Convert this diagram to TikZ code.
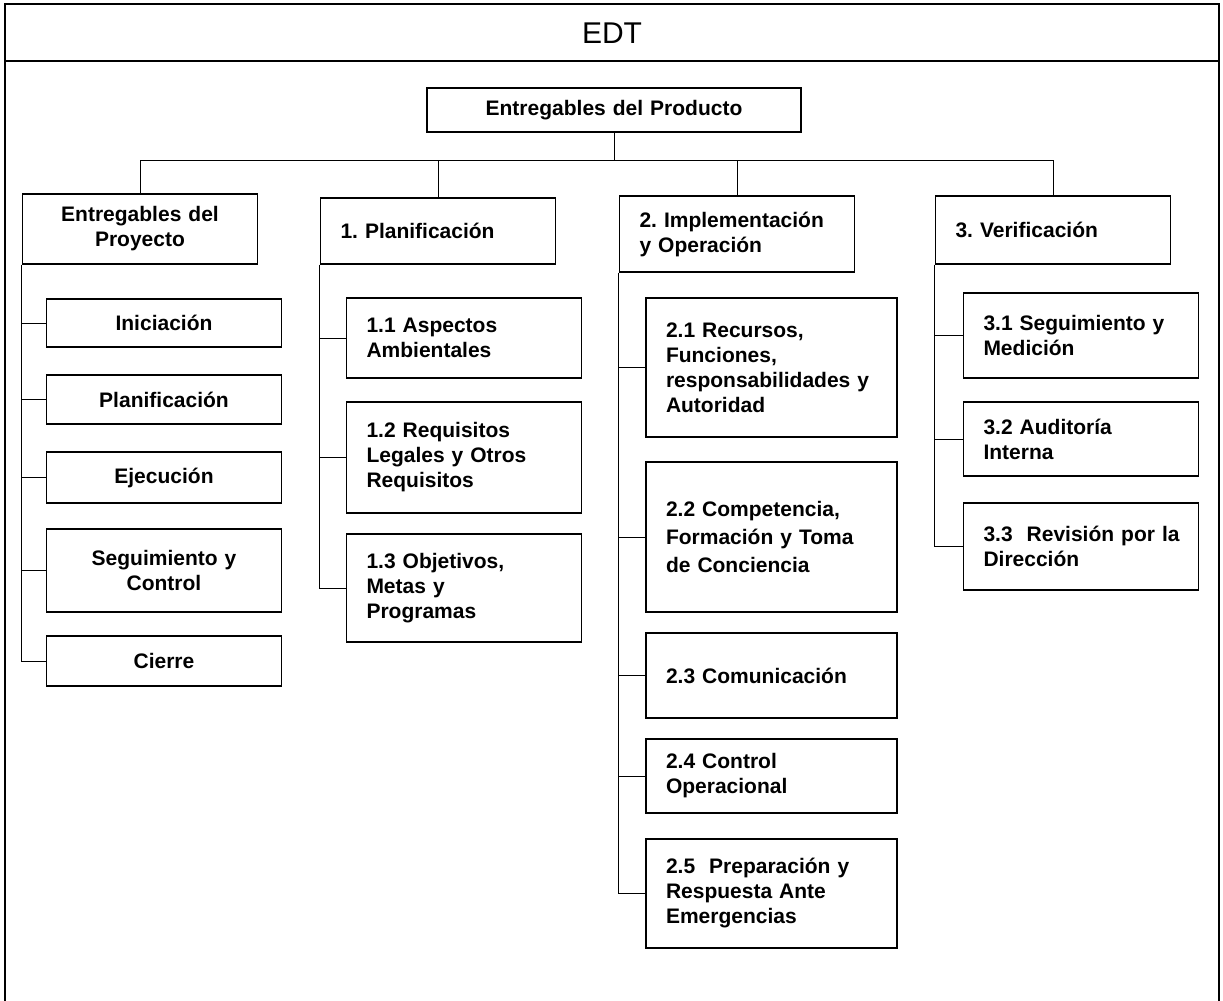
\documentclass[tikz,border=0pt]{standalone}
\usepackage{fontspec}
\setmainfont{Liberation Sans}
\frenchspacing
\newcommand\wbsfont{\fontsize{10.5}{12.5}\selectfont\bfseries\hyphenpenalty=10000}
\tikzset{
  wbs/.style={draw, line width=0.6pt, inner xsep=10pt, inner ysep=0pt,
    text width=97.5pt, align=left, font=\wbsfont},
  wbswide/.style={wbs, text width=105.5pt},
  link/.style={line width=0.5pt},
}
\begin{document}
\begin{tikzpicture}[x=0.5pt,y=-0.5pt]
\useasboundingbox (0,0) rectangle (1223,1001);
% marco
\draw[line width=1pt] (5,1010) |- (1219,4) -- (1219,1010);
\draw[line width=1pt] (5,61) -- (1219,61);
\node[font=\fontsize{15}{18}\selectfont] (title) at (612,33) {EDT};
% nivel 0 y 1
\node[wbs, align=center, text width=167pt, minimum height=22pt] (root) at (614,110) {Entregables del Producto};
\node[wbs, align=center, minimum height=35pt] (A) at (140,229) {Entregables del\\Proyecto};
\node[wbs, minimum height=33pt] (B) at (438,231) {1. Planificación};
\node[wbs, minimum height=38pt] (C) at (737,234) {2. Implementación\\y Operación};
\node[wbs, minimum height=34pt] (D) at (1053,230) {3. Verificación};
% entregables del proyecto
\node[wbs, align=center, minimum height=24pt] (a1) at (164,323) {Iniciación};
\node[wbs, align=center, minimum height=24.5pt] (a2) at (164,399.5) {Planificación};
\node[wbs, align=center, minimum height=25.5pt] (a3) at (164,477.5) {Ejecución};
\node[wbs, align=center, minimum height=41.5pt] (a4) at (164,570.5) {Seguimiento y\\Control};
\node[wbs, align=center, minimum height=25pt] (a5) at (164,661) {Cierre};
% planificacion
\node[wbs, minimum height=40pt] (b1) at (464,338) {1.1 Aspectos\\Ambientales};
\node[wbs, minimum height=55.5pt] (b2) at (464,457.5) {1.2 Requisitos\\Legales y Otros\\Requisitos};
\node[wbs, minimum height=54pt] (b3) at (464,588) {1.3 Objetivos,\\Metas y\\Programas};
% implementacion y operacion
\node[wbswide, minimum height=69.5pt] (c1) at (771.5,367.5) {2.1 Recursos,\\Funciones,\\responsabilidades~y\\Autoridad};
\node[wbswide, minimum height=75pt] (c2) at (771.5,537) {2.2 Competencia,\\[1.5pt]Formación y Toma\\[1.5pt]de Conciencia};
\node[wbswide, minimum height=42.5pt] (c3) at (771.5,675.5) {2.3 Comunicación};
\node[wbswide, minimum height=37pt] (c4) at (771.5,776) {2.4 Control\\Operacional};
\node[wbswide, minimum height=54.5pt] (c5) at (771.5,893.5) {2.5~~Preparación~y\\Respuesta Ante\\Emergencias};
% verificacion
\node[wbs, minimum height=42.5pt] (d1) at (1081,335.5) {3.1 Seguimiento~y\\Medición};
\node[wbs, minimum height=37pt] (d2) at (1081,439) {3.2 Auditoría\\Interna};
\node[wbs, minimum height=43.5pt] (d3) at (1081,546.5) {3.3~~Revisión~por~la\\Dirección};
% conectores
\draw[link] (root.south) -- ++(0,28) coordinate (bus);
\draw[link] (A.north) |- (bus) -| (D.north);
\foreach \n in {B,C} {
\draw[link] (bus -| \n.north) -- (\n.north);
}
\foreach \p/\last in {A/a5,B/b3,C/c5,D/d3} {
\draw[link] (\p.south west) |- (\last.west);
}
\foreach \p/\c in {A/a1,A/a2,A/a3,A/a4,B/b1,B/b2,C/c1,C/c2,C/c3,C/c4,D/d1,D/d2} {
\draw[link] (\p.south west |- \c.west) -- (\c.west);
}
\end{tikzpicture}
\end{document}
